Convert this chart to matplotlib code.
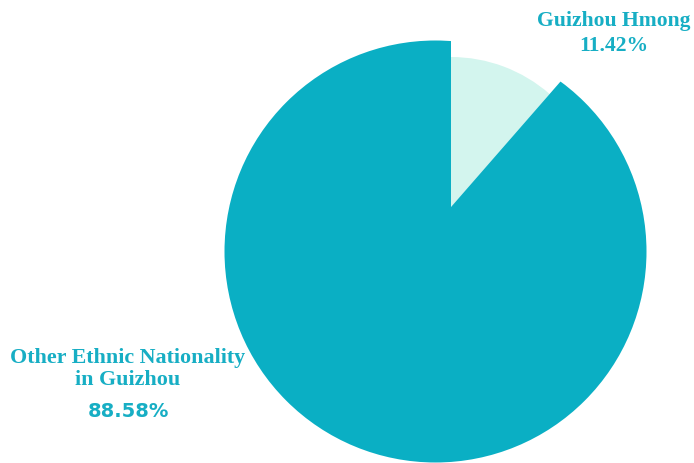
import matplotlib
matplotlib.use("Agg")
import matplotlib.pyplot as plt
from matplotlib.patches import Circle

categories = ["Guizhou Hmong", "Other Ethnic Nationality\nin Guizhou"]
values = [11.42, 88.58]
pct_labels = ["11.42%", "88.58%"]
colors = ["#D3F5EE", "#0AAFC4"]
text_color = "#17AEC4"

W, H = 694, 464
fig = plt.figure(figsize=(W / 100, H / 100), dpi=100)
ax = fig.add_axes([0, 0, 1, 1])

vx, vy = 451, H - 208          # pie centre (shared vertex)
cx, cy = 435.5, H - 252.5      # centre of the outer circle of the large slice
R_outer = 211

wedges, _ = ax.pie(values, colors=colors, startangle=90, counterclock=False,
                   radius=300, center=(vx, vy),
                   wedgeprops=dict(linewidth=0))

ax.set_xlim(0, W)
ax.set_ylim(0, H)
ax.set_aspect("equal")
ax.axis("off")

wedges[0].set_radius(150)
clip = Circle((cx, cy), R_outer, transform=ax.transData)
wedges[1].set_clip_on(True)
wedges[1].set_clip_path(clip)
wedges[0].set_zorder(1)
wedges[1].set_zorder(2)

serif = dict(family="Liberation Serif", weight="bold", color=text_color)
ax.text(614, H - 21, categories[0], ha="center", va="center", fontsize=15.6, **serif)
ax.text(614, H - 46, pct_labels[0], ha="center", va="center", fontsize=15.6, **serif)
ax.text(128, H - 369, categories[1], ha="center", va="center", fontsize=15.8,
        linespacing=1.15, **serif)
ax.text(128, H - 412, pct_labels[1], ha="center", va="center", fontsize=14,
        family="DejaVu Sans", weight="bold", color=text_color)

fig.savefig("out.png", dpi=100)
